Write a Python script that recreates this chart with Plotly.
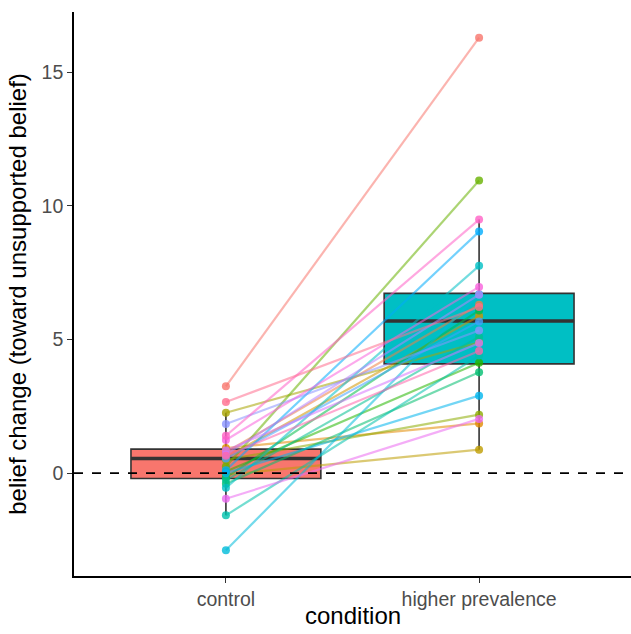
import math
import plotly.graph_objects as go

# ---------------- data ----------------
conditions = ["control", "higher prevalence"]
subjects = list(range(1, 27))
control_vals = [3.25, 0.78, 0.94, 0.59, -0.06, 2.26, 0.50, 0.25, 0.06, -0.16,
                -0.40, -0.26, -1.58, -0.55, -2.89, 0.00, 0.11, 0.55, 1.84, 0.70,
                0.85, -0.96, 1.24, 1.40, 0.65, 2.66]
higher_vals = [16.30, 6.30, 1.86, 5.88, 0.88, 4.90, 2.19, 10.95, 4.13, 6.09,
               3.78, 5.10, 4.40, 7.76, 6.70, 2.90, 9.04, 5.68, 5.34, 6.68,
               4.87, 2.03, 6.97, 9.49, 4.57, 6.22]
# box statistics
box_q1 = [-0.20, 4.09]
box_median = [0.55, 5.69]
box_q3 = [0.90, 6.73]
box_lower = [-1.58, 0.88]
box_upper = [2.26, 9.49]
box_fill = ["#F8766D", "#00BFC4"]
y_ticks = [0, 5, 10, 15]
x_title = "condition"
y_title = "belief change (toward unsupported belief)"


def hcl(h, c=100.0, l=65.0):
    hr = math.radians(h)
    U = c * math.cos(hr)
    V = c * math.sin(hr)
    Xn, Yn, Zn = 95.047, 100.0, 108.883
    Y = Yn * ((l + 16) / 116) ** 3 if l > 8 else Yn * l / 903.3
    d = Xn + 15 * Yn + 3 * Zn
    un, vn = 4 * Xn / d, 9 * Yn / d
    u = U / (13 * l) + un
    v = V / (13 * l) + vn
    X = 9.0 * Y * u / (4 * v)
    Z = -X / 3 - 5 * Y + 3 * Y / v
    X, Y, Z = X / 100, Y / 100, Z / 100
    r = 3.240479 * X - 1.537150 * Y - 0.498535 * Z
    g = -0.969256 * X + 1.875992 * Y + 0.041556 * Z
    b = 0.055648 * X - 0.204043 * Y + 1.057311 * Z

    def gam(t):
        t = 12.92 * t if t <= 0.0031308 else 1.055 * t ** (1 / 2.4) - 0.055
        return int(round(min(max(t, 0), 1) * 255))
    return gam(r), gam(g), gam(b)


n = len(subjects)
cols = [hcl(15 + 360 * k / n) for k in range(n)]

fig = go.Figure()

# boxes
for i, cond in enumerate(conditions):
    fig.add_trace(go.Box(
        x=[cond], q1=[box_q1[i]], median=[box_median[i]], q3=[box_q3[i]],
        lowerfence=[box_lower[i]], upperfence=[box_upper[i]],
        width=0.75, whiskerwidth=0, fillcolor=box_fill[i],
        line=dict(color="#333333", width=1.6), boxpoints=False,
        hoverinfo="skip", showlegend=False))
    # thicker median line (ggplot style)
    fig.add_trace(go.Box(
        x=[cond], q1=[box_median[i]], median=[box_median[i]], q3=[box_median[i]],
        lowerfence=[box_median[i]], upperfence=[box_median[i]],
        width=0.75, whiskerwidth=0, fillcolor="rgba(0,0,0,0)",
        line=dict(color="#333333", width=3.5), boxpoints=False,
        hoverinfo="skip", showlegend=False))

# subject lines
for k in range(n):
    r, g, b = cols[k]
    fig.add_trace(go.Scatter(
        x=conditions, y=[control_vals[k], higher_vals[k]], mode="lines",
        line=dict(color=f"rgba({r},{g},{b},0.55)", width=2.2),
        hoverinfo="skip", showlegend=False))

# points
for ci, vals in enumerate([control_vals, higher_vals]):
    fig.add_trace(go.Scatter(
        x=[conditions[ci]] * n, y=vals, mode="markers",
        marker=dict(size=8, color=[f"rgba({r},{g},{b},0.8)" for (r, g, b) in cols],
                    line=dict(width=0)),
        showlegend=False))

fig.add_hline(y=0, line=dict(color="black", width=1.6, dash="dash"), layer="above")

font_family = "Liberation Sans, Arial, sans-serif"
fig.add_annotation(text=x_title, xref="paper", yref="paper", x=0.5, y=0,
                   xanchor="center", yanchor="top", yshift=-25, borderpad=0,
                   showarrow=False,
                   font=dict(size=24, color="black", family=font_family))

fig.update_layout(
    width=631, height=634,
    margin=dict(l=74, r=0, t=12, b=58),
    paper_bgcolor="white", plot_bgcolor="white",
    boxmode="overlay", showlegend=False,
    font=dict(family=font_family, color="black"),
    xaxis=dict(
        type="category", categoryorder="array", categoryarray=conditions,
        range=[-0.6, 1.6], showgrid=False, zeroline=False, automargin=False,
        showline=True, linecolor="black", linewidth=1.6,
        ticks="outside", ticklen=5, tickwidth=1.4, tickcolor="#333333",
        tickfont=dict(size=19.5, color="#4D4D4D", family=font_family),
    ),
    yaxis=dict(
        range=[-3.85, 17.26], tickvals=y_ticks, showgrid=False, zeroline=False,
        automargin=False,
        showline=True, linecolor="black", linewidth=1.6,
        ticks="outside", ticklen=5, tickwidth=1.4, tickcolor="#333333",
        tickfont=dict(size=19.5, color="#4D4D4D", family=font_family),
        title=dict(text=y_title, font=dict(size=24, color="black"), standoff=8),
    ),
)

# remove the default page margin so the figure fills the window exactly
fig.write_html("out.html", config={"displayModeBar": False},
               post_script="document.body.style.margin='0';")
